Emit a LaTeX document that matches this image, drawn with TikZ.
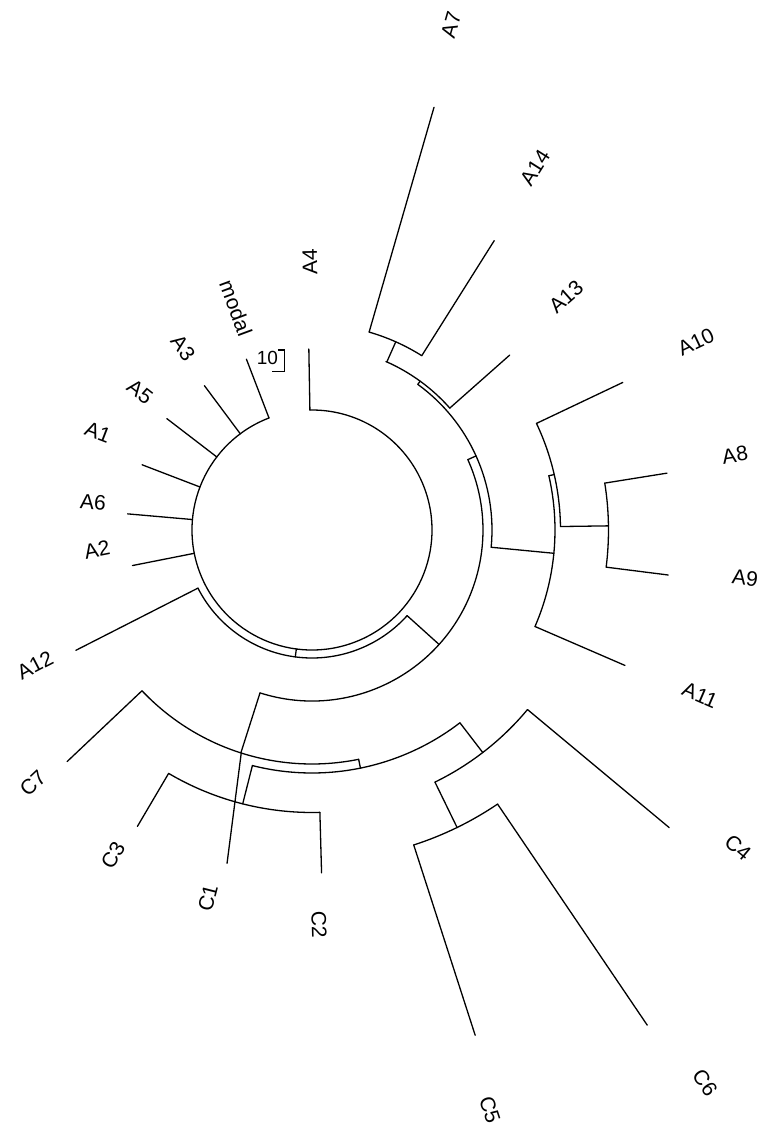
\documentclass[tikz,border=0pt]{standalone}
\usepackage{fontspec}
\setmainfont{Liberation Sans}
\begin{document}
\begin{tikzpicture}[x=1pt,y=1pt,
  br/.style={line width=1.3pt, black, line cap=round, line join=round},
  lbl/.style={font=\fontsize{21}{21}\selectfont, inner sep=0pt}]
\useasboundingbox (-312,-603) rectangle (453,530);
\fill[white] (-312,-603) rectangle (453,530);
\newcommand{\Rarc}[3]{\draw[br] (#1:#3) arc[start angle=#1, end angle=#2, radius=#3];}
\newcommand{\Rline}[3]{\draw[br] (#1:#2) -- (#1:#3);}
% root polytomy
\Rarc{111}{451}{120}
\Rline{111}{120}{183}
\Rline{126.7}{120}{180}
\Rline{142.5}{120}{183}
\Rline{159}{120}{182}
\Rline{175}{120}{185}
\Rline{191.2}{120}{183}
\Rline{91}{120}{181}
\Rline{262.5}{120}{128}
% node A12
\Rarc{207}{318}{128}
\Rline{207}{128}{265}
\Rline{318}{128}{171}
% arc B
\Rarc{252.3}{384.3}{171}
\Rline{24.3}{171}{180}
% X
\Rarc{-5.5}{54}{180}
\Rline{54}{180}{184}
% Y
\Rarc{41.5}{66.3}{184}
\Rline{41.5}{184}{264}
\Rline{66}{184}{206}
\Rarc{57.8}{73.9}{206}
\Rline{57.8}{206}{342}
\Rline{73.9}{206}{440}
% P
\Rline{-5.5}{180}{243}
\Rarc{-23.4}{12.9}{243}
\Rline{-23.4}{243}{341}
\Rline{12.9}{243}{248.5}
\Rarc{0.8}{25.4}{248.5}
\Rline{25.4}{248.5}{344}
\Rline{0.8}{248.5}{296.5}
\Rarc{-7.2}{9.1}{296.5}
\Rline{9.1}{296.5}{359.5}
\Rline{-7.2}{296.5}{359}
% C side
\Rline{252.3}{171}{234}
\Rarc{223.4}{281.5}{234}
\Rline{223.4}{234}{337}
\draw[br] (252.4:234) -- (255.7:344);
\Rline{281.5}{234}{243}
\Rarc{255.8}{307.5}{243}
\Rline{255.8}{243}{282.5}
\Rarc{239.5}{271.6}{282.5}
\Rline{239.5}{282.5}{344}
\Rline{271.6}{282.5}{343}
\Rline{307.5}{243}{280.5}
\Rarc{296}{320.2}{280.5}
\Rline{320.2}{280.5}{465}
\Rline{296}{280.5}{331}
\Rarc{287.9}{304.1}{331}
\Rline{287.9}{331}{531}
\Rline{304.1}{331}{598}
% labels
\node[lbl, rotate=74] (lA7) at (139,505) {A7};
\node[lbl, rotate=57.7] (lA14) at (223,362) {A14};
\node[lbl, rotate=41.5] (lA13) at (254,233) {A13};
\node[lbl, rotate=25.3] (lA10) at (384,188) {A10};
\node[lbl, rotate=9.1] (lA8) at (423,75) {A8};
\node[lbl, rotate=-7.2] (lA9) at (433,-48) {A9};
\node[lbl, rotate=-23.3] (lA11) at (388,-165) {A11};
\node[lbl, rotate=-39.7] (lC4) at (426,-318) {C4};
\node[lbl, rotate=-55.8] (lC6) at (393,-553) {C6};
\node[lbl, rotate=-72.1] (lC5) at (178,-580) {C5};
\node[lbl, rotate=-88.3] (lC2) at (7,-395) {C2};
\node[lbl, rotate=75.7] (lC1) at (-104,-368) {C1};
\node[lbl, rotate=59.4] (lC3) at (-199,-325) {C3};
\node[lbl, rotate=43.4] (lC7) at (-279,-253) {C7};
\node[lbl, rotate=27.4] (lA12) at (-277,-135) {A12};
\node[lbl, rotate=11.2] (lA2) at (-215,-20) {A2};
\node[lbl, rotate=-5] (lA6) at (-219,28) {A6};
\node[lbl, rotate=-21] (lA1) at (-214,98) {A1};
\node[lbl, rotate=-37.7] (lA5) at (-172,138) {A5};
\node[lbl, rotate=-53.6] (lA3) at (-129,182) {A3};
\node[lbl, rotate=-69.6] (lmodal) at (-76,222) {modal};
\node[lbl, rotate=91] (lA4) at (-2,268) {A4};
% scale
\node[font=\fontsize{19}{19}\selectfont, inner sep=0pt] (scl) at (-44.5,172) {10};
\draw[line width=1.1pt] (-34,180) -- (-27.7,180) -- (-27.7,158.3) -- (-40.3,158.3);
\end{tikzpicture}
\end{document}
